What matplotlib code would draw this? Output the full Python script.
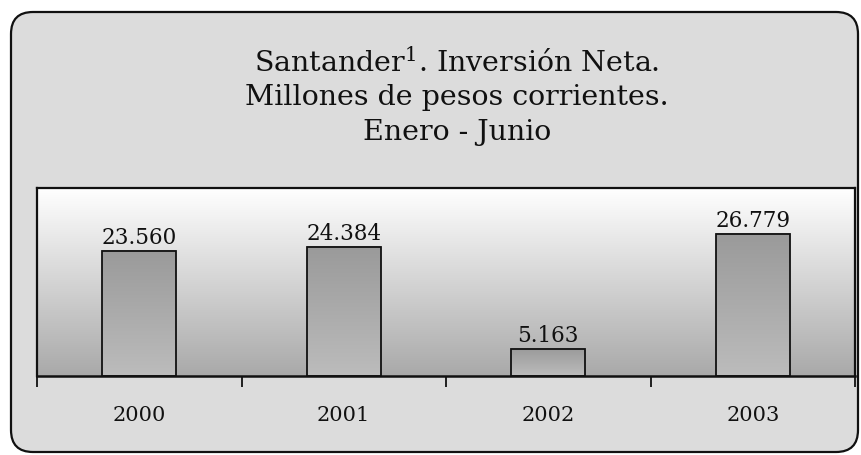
import numpy as np
import matplotlib
matplotlib.use("Agg")
import matplotlib.pyplot as plt
from matplotlib.patches import FancyBboxPatch
from matplotlib.colors import LinearSegmentedColormap

years = ["2000", "2001", "2002", "2003"]
values = [23560, 24384, 5163, 26779]
value_labels = ["23.560", "24.384", "5.163", "26.779"]
title_lines = ["Santander$^{1}$. Inversión Neta.", "Millones de pesos corrientes.", "Enero - Junio"]

plt.rcParams['mathtext.fontset'] = 'dejavuserif'
FONT = "DejaVu Serif"

W, H = 861, 456
fig = plt.figure(figsize=(W / 100, H / 100), dpi=100)
fig.patch.set_facecolor("white")

# background axes in pixel coordinates
bg = fig.add_axes([0, 0, 1, 1], zorder=-5)
bg.set_xlim(0, W)
bg.set_ylim(H, 0)
bg.axis("off")
panel = FancyBboxPatch((11, 13), 858 - 11, 453 - 13,
                       boxstyle="round,pad=0,rounding_size=22",
                       facecolor="#dcdcdc", edgecolor="#111111", linewidth=1.6)
bg.add_patch(panel)

# title
for i, line in enumerate(title_lines):
    bg.text(457, 63 + 35 * i, line, ha="center", va="center",
            fontsize=20.5, family=FONT, color="#111111")

ax = fig.add_axes([37 / W, 1 - 377 / H, (855 - 37) / W, (377 - 189) / H], zorder=2)

# plot area gradient
bg_cmap = LinearSegmentedColormap.from_list("bgc", ["#a9a9a9", "#ffffff"])
grad = np.linspace(0, 1, 256).reshape(-1, 1)
ax.imshow(grad, extent=[-0.5, 3.5, 0, 35400], origin="lower", aspect="auto",
          cmap=bg_cmap, zorder=0)

bar_cmap = LinearSegmentedColormap.from_list("bar", ["#bcbcbc", "#9a9a9a"])
x = np.arange(len(years))
bars = ax.bar(x, values, width=0.36, facecolor="none", edgecolor="#111111",
              linewidth=1.3, zorder=3)
for b in bars:
    bx, by = b.get_x(), b.get_y()
    bw, bh = b.get_width(), b.get_height()
    ax.imshow(grad, extent=[bx, bx + bw, by, by + bh], origin="lower",
              aspect="auto", cmap=bar_cmap, zorder=2)
ax.set_xlim(-0.5, 3.5)
ax.set_ylim(0, 35400)

for xi, v, lab in zip(x, values, value_labels):
    ax.annotate(lab, (xi, v), xytext=(0, 2), textcoords="offset points",
                ha="center", va="bottom", fontsize=15.5, family=FONT, color="#111111")

ax.set_yticks([])
ax.set_xticks(np.arange(-0.5, 4.0, 1.0))
ax.set_xticklabels([])
ax.set_xticks(x, minor=True)
ax.set_xticklabels(years, minor=True, fontsize=15, family=FONT, color="#111111")
ax.tick_params(axis="x", which="major", length=8, width=1.3, color="#111111", direction="out")
ax.tick_params(axis="x", which="minor", length=0, pad=21)
for s in ["left", "top", "right"]:
    ax.spines[s].set_linewidth(1.6)
    ax.spines[s].set_color("#111111")
ax.spines["bottom"].set_linewidth(1.8)
ax.spines["bottom"].set_color("#111111")

fig.savefig("out.png", dpi=100)
